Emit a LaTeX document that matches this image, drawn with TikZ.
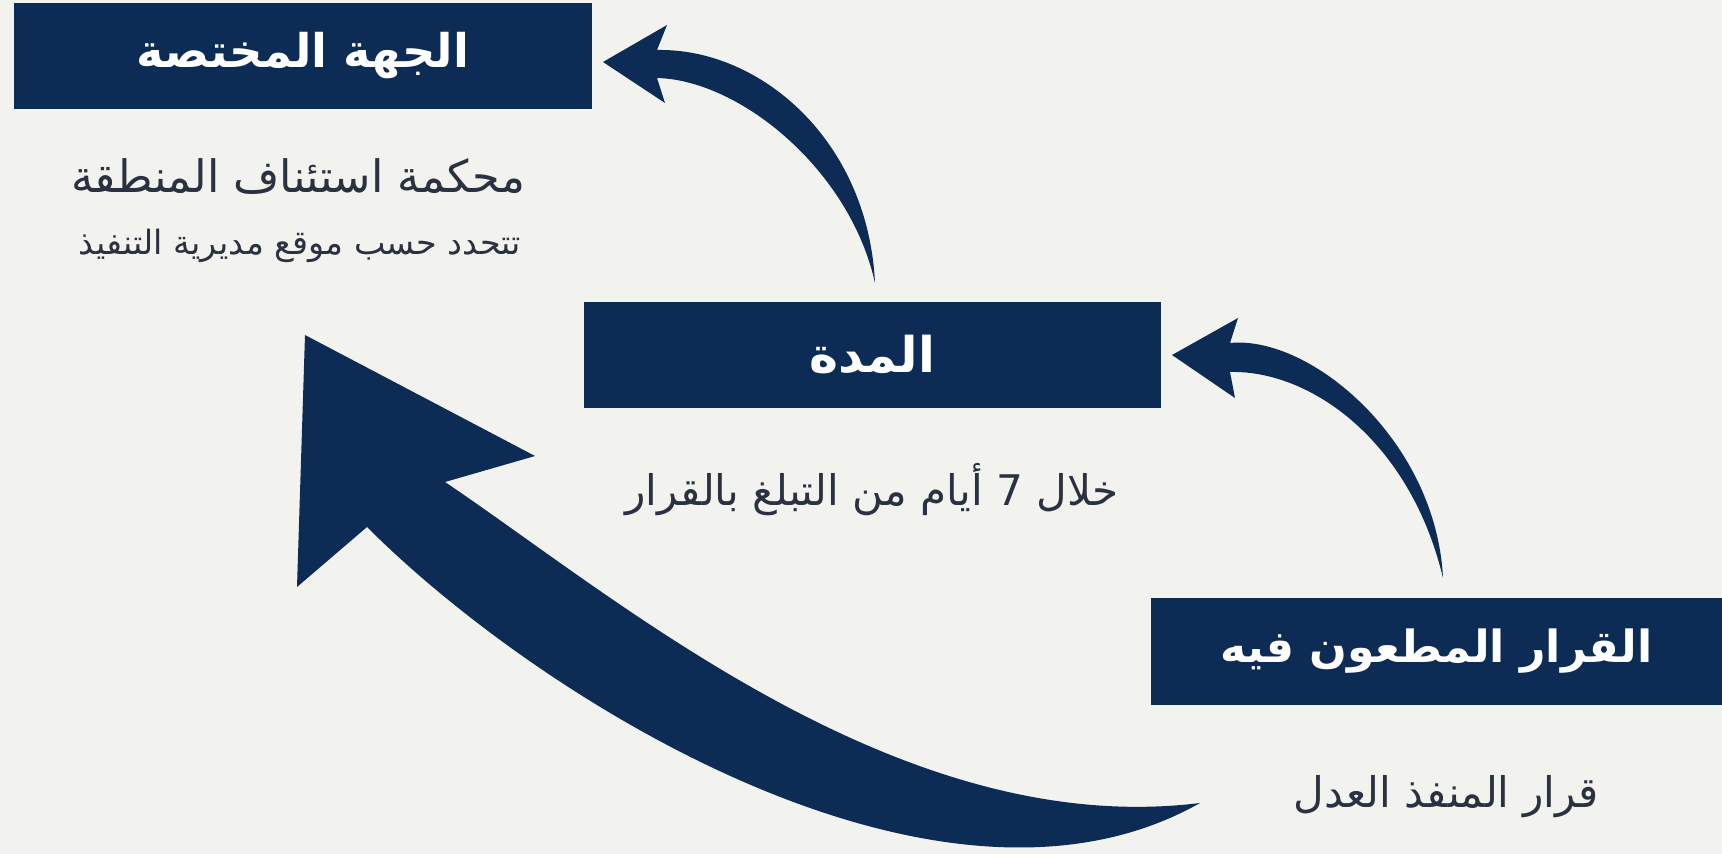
\documentclass[tikz,border=0pt]{standalone}
\usepackage{fontspec}
\usepackage{xcolor}
\setmainfont{DejaVu Sans}
\newfontfamily\arabicfont[Script=Arabic]{DejaVu Sans}
\TeXXeTstate=1
\definecolor{navy}{HTML}{0C2B55}
\definecolor{paper}{HTML}{F2F2EE}
\definecolor{ink}{HTML}{2A3140}
\tikzset{
  titlebox/.style={fill=navy,text=white,inner sep=0pt,minimum height=10.6mm,
    font=\arabicfont\bfseries\fontsize{14}{16}\selectfont},
  note/.style={text=ink,inner sep=0pt,font=\arabicfont\fontsize{12}{14}\selectfont},
  smallnote/.style={note,font=\arabicfont\fontsize{9.5}{11}\selectfont}
}

\begin{document}
\begin{tikzpicture}[x=0.1mm,y=-0.1mm]
\useasboundingbox (0,0) rectangle (1722,854);
\fill[paper] (0,0) rectangle (1722,854);
\fill[navy] (875,283) .. controls (868,140) and (760,48) .. (657,50) -- (667,25) -- (603,62) -- (665,103) -- (657,78) .. controls (740,80) and (850,170) .. (875,283) -- cycle;
\fill[navy] (1443,578) .. controls (1436,440) and (1310,335) .. (1230,343) -- (1238,318) -- (1172,355) -- (1235,398) -- (1230,372) .. controls (1310,370) and (1410,440) .. (1443,578) -- cycle;
\fill[navy] (1200,803) .. controls (940,950) and (540,700) .. (367,527) -- (297,587) -- (305,335) -- (535,456) -- (445,482) .. controls (620,600) and (900,840) .. (1200,803) -- cycle;
\node (jiha) at (303,56) [titlebox,minimum width=57.8mm,font=\arabicfont\bfseries\fontsize{13.2}{15}\selectfont] {\beginR الجهة المختصة\endR};
\node (mahkama) at (298,177) [note,font=\arabicfont\fontsize{12.7}{15}\selectfont] {\beginR محكمة استئناف المنطقة\endR};
\node (tahdid) at (300,246) [smallnote] {\beginR تتحدد حسب موقع مديرية التنفيذ\endR};
\node (mudda) at (872,355) [titlebox,minimum width=57.7mm] {\beginR المدة\endR};
\node (khilal) at (872,490) [note] {\beginR خلال 7 أيام من التبلغ بالقرار\endR};
\node (qarar) at (1436.5,651.5) [titlebox,minimum width=57.1mm,minimum height=10.7mm,font=\arabicfont\bfseries\fontsize{12.6}{15}\selectfont] {\beginR القرار المطعون فيه\endR};
\node (munaffidh) at (1446,797) [note] {\beginR قرار المنفذ العدل\endR};
\end{tikzpicture}
\end{document}
